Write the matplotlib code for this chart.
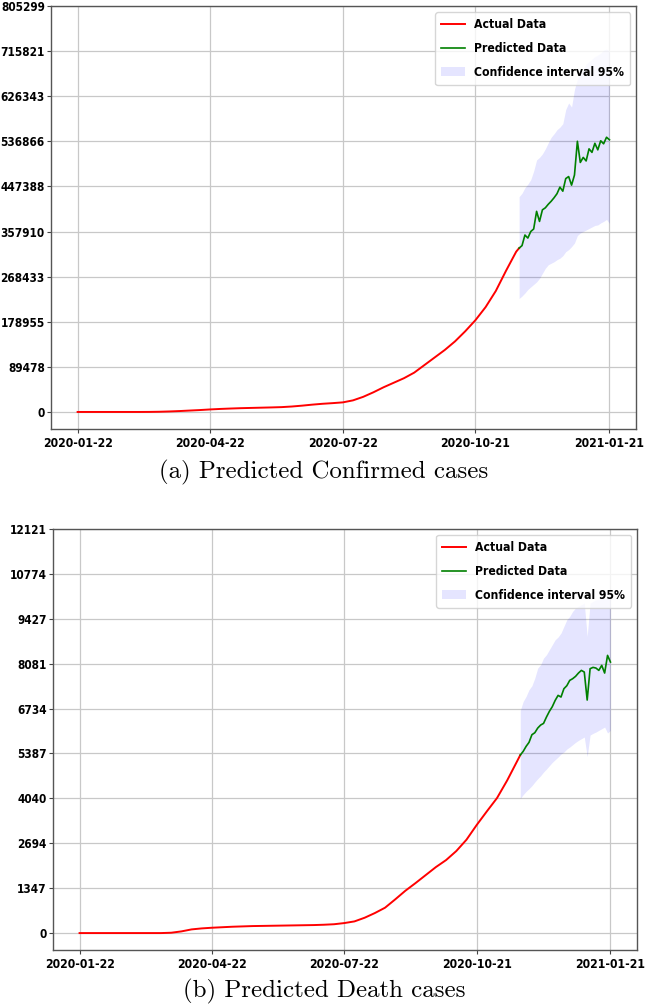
import matplotlib
matplotlib.use("Agg")
import matplotlib.pyplot as plt
from matplotlib.font_manager import FontProperties
import pandas as pd

# ---------------- data ----------------
actual_start = "2020-01-22"          # weekly observations from here
forecast_start = "2020-11-20"
forecast_end = "2021-01-21"

# weekly actual values (Jan 22 ... Nov 18) + value at forecast start (Nov 20)
confirmed_actual = [0, 0, 0, 0, 0, 0, 0, 100, 400, 1000, 1800, 2800, 3800, 5000,
                    6000, 6800, 7500, 8000, 8500, 9000, 9600, 10800, 12500, 14500,
                    16200, 17500, 19000, 23000, 30000, 39000, 49000, 58000, 67000,
                    78000, 93000, 108000, 123000, 140000, 160000, 182000, 208000,
                    240000, 280000, 318000, 325000]
deaths_actual = [0, 0, 0, 0, 0, 0, 0, 0, 0, 10, 50, 110, 140, 160, 175, 190, 200,
                 210, 215, 220, 225, 230, 235, 240, 250, 265, 300, 350, 460, 600,
                 760, 1010, 1270, 1500, 1740, 1980, 2190, 2460, 2800, 3240, 3650,
                 4050, 4580, 5170, 5340]

# forecast every 2 days from Nov 20 2020 to Jan 21 2021
confirmed_pred = [325000, 330000, 351000, 345000, 358000, 363000, 398000, 378000,
                  401000, 405000, 412000, 418000, 425000, 433000, 446000, 438000,
                  463000, 467000, 450000, 470000, 537000, 495000, 505000, 498000,
                  522000, 515000, 533000, 520000, 538000, 532000, 545000, 540000]
confirmed_upper = [427000, 434000, 445000, 452000, 461000, 478000, 500000, 505000,
                   512000, 522000, 534000, 545000, 552000, 560000, 565000, 572000,
                   600000, 613000, 605000, 640000, 660000, 670000, 680000, 690000,
                   695000, 700000, 705000, 708000, 712000, 718000, 720000, 715000]
confirmed_lower = [225000, 230000, 236000, 243000, 248000, 253000, 258000, 265000,
                   275000, 285000, 292000, 295000, 298000, 302000, 305000, 310000,
                   318000, 322000, 328000, 335000, 350000, 355000, 358000, 361000,
                   364000, 367000, 370000, 371000, 375000, 378000, 382000, 374000]

deaths_pred = [5340, 5450, 5600, 5720, 5950, 6010, 6150, 6240, 6290, 6480, 6650,
               6790, 6980, 7130, 7080, 7330, 7420, 7580, 7630, 7700, 7800, 7880,
               7830, 6990, 7930, 7970, 7950, 7880, 8030, 7800, 8330, 8130]
deaths_upper = [6680, 6950, 7100, 7300, 7420, 7650, 7950, 8050, 8250, 8350, 8500,
                8650, 8800, 8880, 9000, 9200, 9400, 9500, 9650, 9750, 9800, 9850,
                9900, 8900, 9900, 9950, 10000, 10000, 10050, 10000, 10100, 10050]
deaths_lower = [4040, 4150, 4250, 4330, 4420, 4530, 4630, 4720, 4830, 4920, 5020,
                5120, 5200, 5280, 5370, 5430, 5520, 5580, 5650, 5720, 5780, 5830,
                5880, 5290, 5940, 5990, 6030, 6080, 6130, 6180, 6000, 6080]

xtick_labels = ["2020-01-22", "2020-04-22", "2020-07-22", "2020-10-21", "2021-01-21"]
confirmed_yticks = [0, 89478, 178955, 268433, 357910, 447388, 536866, 626343, 715821, 805299]
deaths_yticks = [0, 1347, 2694, 4040, 5387, 6734, 8081, 9427, 10774, 12121]

legend_labels = ["Actual Data", "Predicted Data", "Confidence interval 95%"]
captions = ["(a) Predicted Confirmed cases", "(b) Predicted Death cases"]

# ---------------- figure ----------------
actual_dates = list(pd.date_range(actual_start, periods=len(confirmed_actual) - 1, freq="7D")) \
    + [pd.Timestamp(forecast_start)]
pred_dates = pd.date_range(forecast_start, forecast_end, periods=len(confirmed_pred))
xticks = pd.to_datetime(xtick_labels)

fp_x = FontProperties(family="DejaVu Sans", weight="bold", stretch="condensed", size=8.7)
fp_y = FontProperties(family="DejaVu Sans", weight="bold", stretch="condensed", size=8.5)
fp_leg = FontProperties(family="DejaVu Sans", weight="bold", stretch="condensed", size=8.7)

fig = plt.figure(figsize=(6.45, 10.08), dpi=100)
ax_top = fig.add_axes([0.0791, 0.5744, 0.907, 0.4196])
ax_bot = fig.add_axes([0.0822, 0.0575, 0.9054, 0.4177])

panels = [
    (ax_top, confirmed_actual, confirmed_pred, confirmed_lower, confirmed_upper, confirmed_yticks),
    (ax_bot, deaths_actual, deaths_pred, deaths_lower, deaths_upper, deaths_yticks),
]

for ax, act, pred, lo, up, yt in panels:
    ax.fill_between(pred_dates, lo, up, color="b", alpha=0.1, linewidth=0,
                    label=legend_labels[2], zorder=1)
    ax.plot(actual_dates, act, color="red", lw=1.4, label=legend_labels[0], zorder=3)
    ax.plot(pred_dates, pred, color="green", lw=1.2, label=legend_labels[1], zorder=3)
    ymax = yt[-1]
    ax.set_ylim(-0.042 * ymax, ymax)
    ax.set_yticks(yt)
    ax.set_yticklabels([str(v) for v in yt])
    ax.set_xticks(xticks)
    ax.set_xticklabels(xtick_labels)
    for lab in ax.get_xticklabels():
        lab.set_fontproperties(fp_x)
    for lab in ax.get_yticklabels():
        lab.set_fontproperties(fp_y)
    ax.tick_params(length=3, width=0.8, pad=1.5, color="#444444")
    ax.tick_params(axis="x", pad=2.5)
    ax.grid(True, color="#c8c8c8", linewidth=0.9)
    ax.set_axisbelow(True)
    for sp in ax.spines.values():
        sp.set_color("#555555")
        sp.set_linewidth(1.0)
    handles, labels = ax.get_legend_handles_labels()
    order = [labels.index(l) for l in legend_labels]
    ax.legend([handles[i] for i in order], [labels[i] for i in order],
              loc="upper right", prop=fp_leg, labelspacing=0.9, borderpad=0.5,
              handletextpad=0.7)

fig.text(0.502, 0.5317, captions[0], family="cmr10", fontsize=17.9, ha="center", va="center")
fig.text(0.502, 0.0159, captions[1], family="cmr10", fontsize=17.9, ha="center", va="center")

fig.savefig("out.png", dpi=100)
